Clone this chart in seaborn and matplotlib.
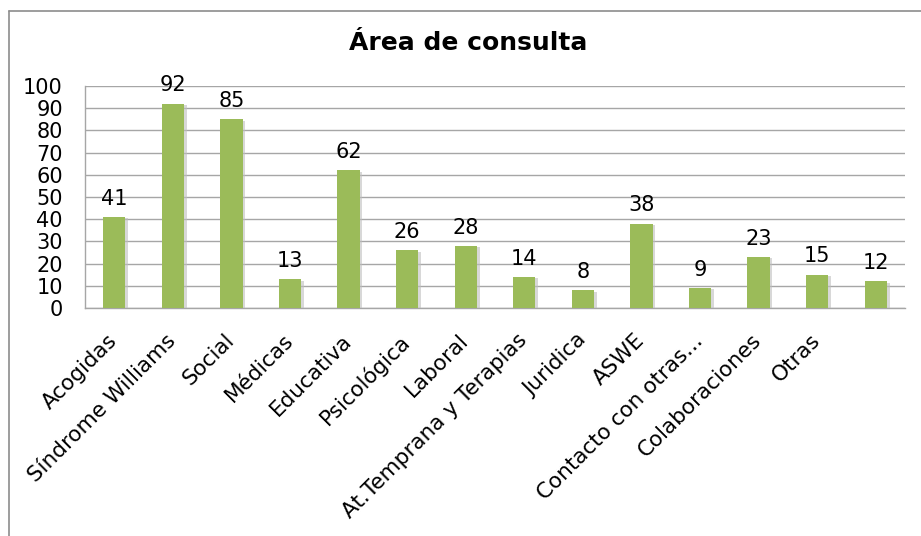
import matplotlib
matplotlib.use("Agg")
import matplotlib.pyplot as plt
import matplotlib.patheffects as pe
import matplotlib.transforms as mtransforms
from matplotlib.lines import Line2D
from matplotlib.ticker import FixedLocator
import seaborn as sns
import pandas as pd

# --- Data ---
categories = ["Acogidas", "Síndrome Williams", "Social", "Médicas", "Educativa",
              "Psicológica", "Laboral", "At.Temprana y Terapias", "Juridica", "ASWE",
              "Contacto con otras...", "Colaboraciones", "Otras", ""]
values = [41, 92, 85, 13, 62, 26, 28, 14, 8, 38, 9, 23, 15, 12]
y_ticks = list(range(0, 101, 10))

BAR_COLOR = "#9BBB59"
GRID_COLOR = "#A6A6A6"

df = pd.DataFrame({"cat": categories, "val": values})

sns.set_style("white")
plt.rcParams["font.family"] = ["DejaVu Sans"]
plt.rcParams["text.color"] = "black"
plt.rcParams["xtick.labelcolor"] = "black"
plt.rcParams["ytick.labelcolor"] = "black"

fig = plt.figure(figsize=(9.21, 5.36), dpi=100)
ax = fig.add_axes([85 / 921, 1 - 308 / 536, (905 - 85) / 921, (308 - 86) / 536])

sns.barplot(data=df, x="cat", y="val", order=categories, color=BAR_COLOR,
            saturation=1, width=0.38, ax=ax, zorder=3)
for p in ax.patches:
    p.set_edgecolor("none")
    p.set_path_effects([pe.SimplePatchShadow(offset=(2, -1), shadow_rgbFace="#bfbfbf", alpha=0.6),
                        pe.Normal()])

for i, v in enumerate(values):
    ax.annotate(str(v), (i, v), xytext=(0, 6), textcoords="offset points",
                ha="center", va="bottom", fontsize=15, color="black")

ax.set_xlim(-0.5, len(values) - 0.5)
ax.set_ylim(0, 100)
ax.set_yticks(y_ticks)
ax.tick_params(axis="y", labelsize=15, length=6, color=GRID_COLOR, width=1, pad=10)
ax.yaxis.grid(True, color=GRID_COLOR, linewidth=1, zorder=0)
ax.set_axisbelow(True)

ax.set_xticks(range(len(values)))
ax.set_xticklabels(categories, rotation=45, ha="right", va="top", fontsize=15.5)
ax.tick_params(axis="x", which="major", length=0, pad=16)
shift = mtransforms.ScaledTranslation(7 / 100, 0, fig.dpi_scale_trans)
for lab in ax.get_xticklabels():
    lab.set_transform(lab.get_transform() + shift)
ax.xaxis.set_minor_locator(FixedLocator([i - 0.5 for i in range(len(values) + 1)]))
ax.tick_params(axis="x", which="minor", length=7, color=GRID_COLOR, width=1)

ax.set_xlabel("")
ax.set_ylabel("")
for side in ["top", "right"]:
    ax.spines[side].set_visible(False)
for side in ["left", "bottom"]:
    ax.spines[side].set_color(GRID_COLOR)
    ax.spines[side].set_linewidth(1)

fig.text(468 / 921, 1 - 43 / 536, "Área de consulta", ha="center", va="center",
         fontsize=18, fontweight="bold", color="black")

# outer chart frame (top and left edges visible)
fig.add_artist(Line2D([9 / 921, 9 / 921], [0, 1 - 11 / 536], transform=fig.transFigure,
                      color="#8c8c8c", linewidth=1.2))
fig.add_artist(Line2D([9 / 921, 1], [1 - 11 / 536, 1 - 11 / 536], transform=fig.transFigure,
                      color="#8c8c8c", linewidth=1.2))

fig.savefig("out.png", dpi=100)
